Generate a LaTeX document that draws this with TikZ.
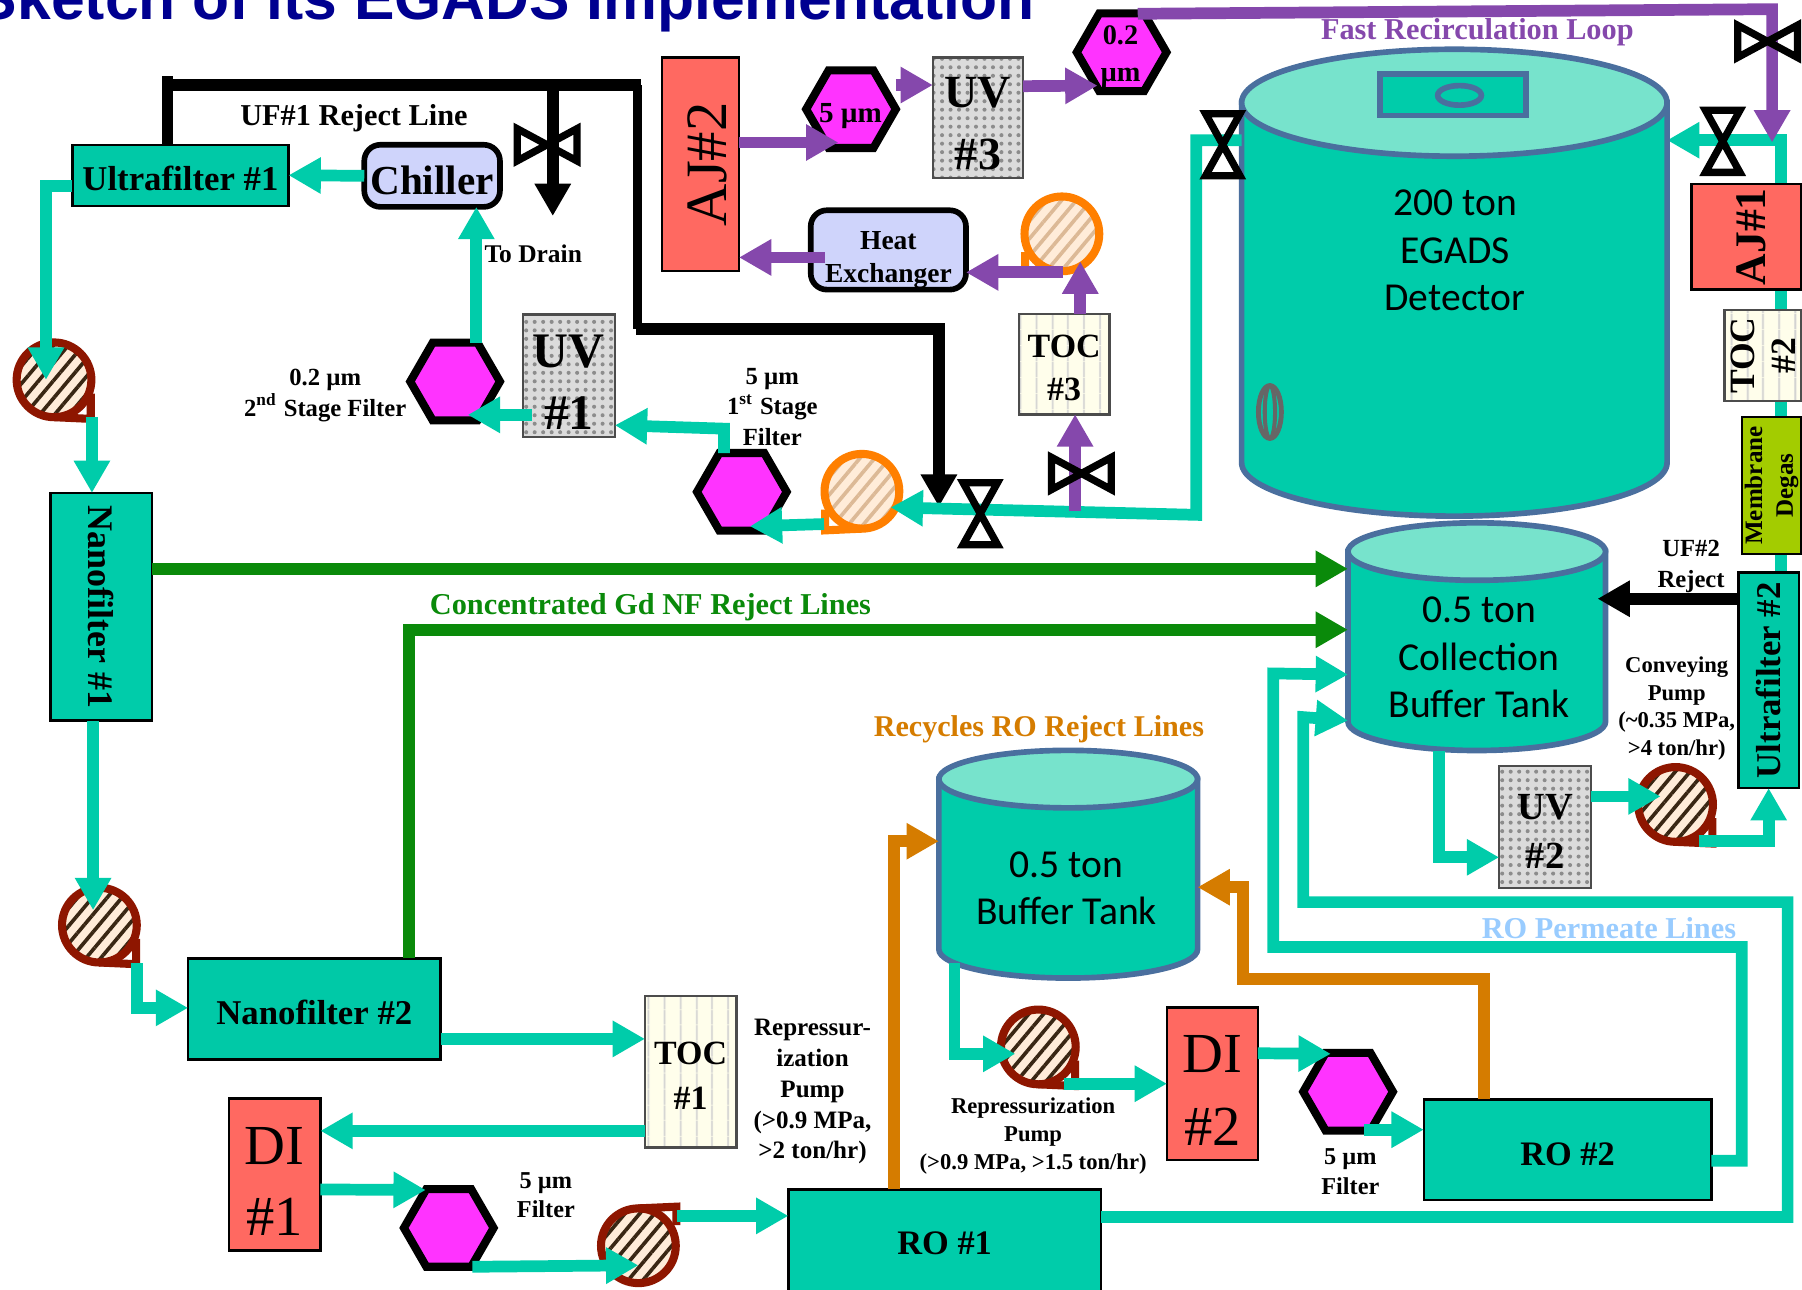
\documentclass[tikz,border=0pt]{standalone}
\usepackage{fontspec}
\setmainfont{Liberation Serif}
\newfontfamily\titlefont{Liberation Sans}
\newfontfamily\tankfont{Carlito}
\usepackage{xcolor}
\definecolor{flowgreen}{HTML}{00CCAA}
\definecolor{boxteal}{HTML}{00C9A7}
\definecolor{lidteal}{HTML}{77E3CC}
\definecolor{tankrim}{HTML}{4A6F9E}
\definecolor{coral}{HTML}{FF6961}
\definecolor{hexpink}{HTML}{FF33FF}
\definecolor{periwinkle}{HTML}{CFD4FB}
\definecolor{loopviolet}{HTML}{8548AC}
\definecolor{rejorange}{HTML}{D57C00}
\definecolor{rejgreen}{HTML}{0A8A0A}
\definecolor{pumpred}{HTML}{8E1600}
\definecolor{pumporange}{HTML}{FF7F00}
\definecolor{degaslime}{HTML}{A3CC00}
\definecolor{titleblue}{HTML}{000090}
\definecolor{permblue}{HTML}{99CCFF}
\usetikzlibrary{arrows.meta,shapes.geometric,patterns.meta,backgrounds}
\newcommand{\fsz}[2]{\fontsize{#1}{#2}\selectfont}
\newcommand{\drop}[1][0.9em]{\rule{0pt}{#1}}
\tikzset{
  solid box/.style={draw=black, line width=0.6pt, inner sep=0pt, outer sep=0pt, align=center},
  tealbox/.style={solid box, fill=boxteal, font=\bfseries},
  coralbox/.style={solid box, fill=coral},
  softbox/.style={solid box, fill=periwinkle, line width=1.4pt, rounded corners=4pt, font=\bfseries},
  uvbox/.style={solid box, draw=black!70, preaction={fill=black!14}, pattern={Dots[distance=2.1pt,radius=0.5pt]}, pattern color=black!45, font=\bfseries},
  tocbox/.style={solid box, draw=black!70, preaction={fill=yellow!8!white}, pattern={Lines[angle=90,distance=4pt,line width=0.5pt]}, pattern color=black!18, font=\bfseries},
  hexfilter/.style={regular polygon, regular polygon sides=6, minimum size=0.78cm, draw=black, line width=2pt, fill=hexpink, inner sep=0pt, outer sep=0pt},
  pumpbody/.style={circle, minimum size=0.65cm, inner sep=0pt, outer sep=0pt, line width=2pt, draw=#1},
  darkpump/.style={pumpbody=pumpred, preaction={fill=orange!15!white}, pattern={Lines[angle=50,distance=2.8pt,line width=0.9pt]}, pattern color=black!70!brown},
  palepump/.style={pumpbody=pumporange, preaction={fill=orange!15!white}, pattern={Lines[angle=50,distance=2.8pt,line width=0.9pt]}, pattern color=brown!55!white},
  vessel/.style={inner sep=0pt, outer sep=0pt},
  rim/.style={draw=tankrim, line width=1.4pt},
  tanktext/.style={font=\tankfont\fsz{9.8pt}{11.7pt}, align=center, inner sep=0pt},
  lab/.style={font=\bfseries\fsz{5.8pt}{6.9pt}, align=center, inner sep=0pt},
  flow/.style={line width=2.9pt, draw=flowgreen, -{Triangle[length=8pt,width=8.5pt]}},
  loopflow/.style={flow, draw=loopviolet},
  greenflow/.style={flow, draw=rejgreen},
  orangeflow/.style={flow, draw=rejorange},
  blackflow/.style={flow, draw=black},
  valveline/.style={draw=black, line width=1.8pt, line join=miter}
}
\begin{document}
\begin{tikzpicture}[x=0.01cm, y=-0.01cm]
\useasboundingbox (0,0) rectangle (1568,1122);
\clip (0,0) rectangle (1568,1122);
\node[anchor=base east, inner sep=0pt, text=titleblue, font=\titlefont\bfseries\fsz{15pt}{18pt}] (title) at (901,17) {Sketch of its EGADS Implementation};
% tanks
\node[vessel, minimum width=3.7cm, minimum height=4.06cm] (tank) at (1265.5,246) {};
\node[vessel, minimum width=2.24cm, minimum height=1.98cm] (collect) at (1285,554) {};
\node[vessel, minimum width=2.25cm, minimum height=1.98cm] (buffer) at (929.5,752) {};
\foreach \t/\rx/\ry in {tank/1.85/0.465, collect/1.12/0.25, buffer/1.125/0.25}{
  \draw[rim, fill=flowgreen] ([yshift=-\ry cm]\t.north west) -- ([yshift=\ry cm]\t.south west)
    arc[start angle=180, end angle=360, x radius=\rx cm, y radius=\ry cm] -- ([yshift=-\ry cm]\t.north east) -- cycle;
  \draw[rim, fill=lidteal] ([yshift=-\ry cm]\t.north) ellipse [x radius=\rx cm, y radius=\ry cm];
}
\node[draw=tankrim, line width=1.4pt, fill=flowgreen, minimum width=1.27cm, minimum height=0.36cm, inner sep=0pt] (lidhatch) at (1264.5,82.5) {};
\node[ellipse, draw=tankrim, line width=1.4pt, minimum width=0.38cm, minimum height=0.17cm, inner sep=0pt] (lidport) at (1270,83) {};
\node[ellipse, draw=black!60, line width=1.2pt, minimum width=0.2cm, minimum height=0.46cm, inner sep=0pt] (port) at (1105,358.5) {};
\node[ellipse, draw=black!60, line width=1pt, minimum width=0.09cm, minimum height=0.46cm, inner sep=0pt] (portin) at (1105,358.5) {};
\node[tanktext] (tanklab) at (1266,218) {200 ton\\EGADS\\Detector};
\node[tanktext] (collectlab) at (1287,572) {0.5 ton\\Collection\\Buffer Tank};
\node[tanktext] (bufferlab) at (928,773) {0.5 ton\\Buffer Tank};
% boxes
\node[tealbox, minimum width=1.88cm, minimum height=0.53cm, font=\bfseries\fsz{8.6pt}{10pt}] (ufone) at (157,152.5) {\drop Ultrafilter \#1};
\node[softbox, minimum width=1.18cm, minimum height=0.54cm, font=\bfseries\fsz{10.2pt}{12pt}] (chiller) at (376,153) {\drop Chiller};
\node[softbox, minimum width=1.35cm, minimum height=0.69cm, font=\bfseries\fsz{6.8pt}{8pt}] (heatex) at (773,217.5) {\drop[1.4em]Heat\\Exchanger};
\node[coralbox, rotate=90, minimum width=1.86cm, minimum height=0.67cm, font=\fsz{14.5pt}{17pt}] (ajtwo) at (609.5,143) {\drop AJ\#2};
\node[coralbox, rotate=90, minimum width=0.92cm, minimum height=0.95cm, font=\bfseries\fsz{10.8pt}{13pt}] (ajone) at (1519.5,206) {\drop AJ\#1};
\node[uvbox, minimum width=0.8cm, minimum height=1.065cm, font=\bfseries\fsz{12.3pt}{15.4pt}] (uvone) at (495,327) {\drop UV\\\#1};
\node[uvbox, minimum width=0.8cm, minimum height=1.06cm, font=\bfseries\fsz{9.5pt}{12pt}] (uvtwo) at (1344.5,719.5) {\drop UV\\\#2};
\node[uvbox, minimum width=0.785cm, minimum height=1.05cm, font=\bfseries\fsz{11.4pt}{15.4pt}] (uvthree) at (851,102.5) {\drop UV\\\#3};
\node[tocbox, minimum width=0.795cm, minimum height=1.32cm, font=\bfseries\fsz{8.4pt}{11pt}] (tocone) at (601,932.5) {\drop TOC\\\#1};
\node[tocbox, rotate=90, minimum width=0.79cm, minimum height=0.665cm, font=\bfseries\fsz{8.8pt}{10.2pt}] (toctwo) at (1534,309.5) {TOC\\\#2};
\node[tocbox, minimum width=0.79cm, minimum height=0.87cm, font=\bfseries\fsz{8.4pt}{10.6pt}] (tocthree) at (926,317) {\drop TOC\\\#3};
\node[solid box, fill=degaslime, rotate=90, minimum width=1.19cm, minimum height=0.515cm, font=\bfseries\fsz{6.2pt}{7.6pt}] (degas) at (1541.5,422.5) {Membrane\\Degas};
\node[solid box, fill=boxteal, rotate=90, minimum width=1.875cm, minimum height=0.525cm, font=\bfseries\fsz{8.6pt}{10pt}] (uftwo) at (1539,592) {Ultrafilter \#2};
\node[solid box, fill=flowgreen, rotate=-90, minimum width=1.98cm, minimum height=0.88cm, font=\bfseries\fsz{8.9pt}{10pt}] (nfone) at (88,528) {Nanofilter \#1};
\node[tealbox, minimum width=2.195cm, minimum height=0.88cm, font=\bfseries\fsz{8.6pt}{10pt}] (nftwo) at (273.5,878) {\drop Nanofilter \#2};
\node[coralbox, minimum width=0.795cm, minimum height=1.325cm, font=\fsz{14pt}{17.6pt}] (dione) at (239,1022) {\drop DI\\\#1};
\node[coralbox, minimum width=0.79cm, minimum height=1.325cm, font=\fsz{14pt}{18pt}] (ditwo) at (1055,943) {\drop DI\\\#2};
\node[solid box, fill=flowgreen, minimum width=2.72cm, minimum height=1.6cm, anchor=north west] (roone) at (686,1035) {};
\node[inner sep=0pt, font=\bfseries\fsz{8.5pt}{10pt}] (roonelab) at (822,1082) {RO \#1};
\node[solid box, fill=flowgreen, minimum width=2.5cm, minimum height=0.875cm, font=\bfseries\fsz{8.5pt}{10pt}] (rotwo) at (1364,1000.5) {\drop RO \#2};
% filters
\node[hexfilter] (hexa) at (740.5,95) {};
\node[lab, font=\bfseries\fsz{7.2pt}{9pt}] (hexalab) at (740,101) {5 µm};
\node[hexfilter] (hexb) at (976,45.5) {};
\node[lab, font=\bfseries\fsz{7pt}{9.2pt}] (hexblab) at (975,49) {0.2\\µm};
\node[hexfilter] (hexc) at (396,332) {};
\node[hexfilter] (hexd) at (645.5,428) {};
\node[hexfilter] (hexe) at (390.5,1068.5) {};
\node[hexfilter] (hexf) at (1173,950) {};
% pumps
\node[darkpump] (pumpa) at (47,330.5) {};
\node[darkpump] (pumpb) at (86.5,805) {};
\node[darkpump] (pumpc) at (555.5,1084) {};
\node[darkpump] (pumpd) at (903.5,911) {};
\node[darkpump] (pumpe) at (1458,700) {};
\node[palepump] (pumpf) at (750,427.5) {};
\node[palepump] (pumpg) at (924,203.5) {};
\foreach \p in {pumpa,pumpb,pumpd,pumpe}{
  \draw[pumpred, line width=2pt] (\p.south) -- ([shift={(32,34)}]\p.center) -- ([shift={(32,12)}]\p.center);
}
\draw[pumpred, line width=2pt] (pumpc.north) -- ([shift={(33,-34)}]pumpc.center) -- ([shift={(33,-18)}]pumpc.center);
\foreach \p in {pumpf,pumpg}{
  \draw[pumporange, line width=2pt] (\p.south) -- ([shift={(-32,34)}]\p.center) -- ([shift={(-32,16)}]\p.center);
}
% labels
\node[lab, font=\bfseries\fsz{7.5pt}{9pt}] (ufonelab) at (308,103) {UF\#1 Reject Line};
\node[lab, font=\bfseries\fsz{6.3pt}{8pt}] (drainlab) at (464,221) {To Drain};
\node[lab, font=\bfseries\fsz{6.1pt}{7.6pt}] (hexclab) at (283,344) {0.2 µm\\2\textsuperscript{nd} Stage Filter};
\node[lab, font=\bfseries\fsz{6.1pt}{7.6pt}] (hexdlab) at (672,354) {5 µm\\1\textsuperscript{st} Stage\\Filter};
\node[lab, text=loopviolet, font=\bfseries\fsz{7.5pt}{9pt}] (looplab) at (1285.5,28) {Fast Recirculation Loop};
\node[lab, text=rejgreen, font=\bfseries\fsz{7.5pt}{9pt}] (gdlab) at (566,528) {Concentrated Gd NF Reject Lines};
\node[lab, text=rejorange, font=\bfseries\fsz{7.45pt}{9pt}] (recyclab) at (904,635) {Recycles RO Reject Lines};
\node[lab, text=permblue, font=\bfseries\fsz{7.5pt}{9pt}] (permlab) at (1400,808) {RO Permeate Lines};
\node[lab, font=\bfseries\fsz{6.1pt}{7.5pt}] (ufrejlab) at (1471.5,493) {UF\#2\\Reject};
\node[lab, font=\bfseries\fsz{5.6pt}{6.8pt}] (convlab) at (1459,616.5) {Conveying\\Pump\\(\textasciitilde0.35 MPa,\\>4 ton/hr)};
\node[lab, font=\bfseries\fsz{6.2pt}{7.6pt}] (repalab) at (707,950) {Repressur-\\ization\\Pump\\(>0.9 MPa,\\>2 ton/hr)};
\node[lab, font=\bfseries\fsz{5.6pt}{7pt}] (repblab) at (899,988.5) {Repressurization\\Pump\\(>0.9 MPa, >1.5 ton/hr)};
\node[lab, font=\bfseries\fsz{6pt}{7.4pt}] (hexelab) at (475,1040) {5 µm\\Filter};
\node[lab, font=\bfseries\fsz{6pt}{7.4pt}] (hexflab) at (1175,1019.5) {5 µm\\Filter};
% riser behind the right hand stack
\begin{scope}[on background layer]
\draw[flow] (1550,0 |- uftwo.east) -- (1550,122) -- (tank.east |- 0,122);
\end{scope}
% reject lines
\coordinate (rejjoin) at (555,74);
\coordinate (draintip) at (481,188);
\coordinate (rejtip) at (817,441);
\draw[black, line width=2.8pt] (146,0 |- ufone.north) -- (146,66);
\draw[black, line width=2.8pt] (146,74) -- (558,74);
\draw[blackflow] (rejjoin -| draintip) -- (draintip);
\draw[black, line width=2.2pt] (rejjoin) -- (555,286);
\draw[blackflow] (553,286) -| (rejtip);
\draw[blackflow] (uftwo.north |- 0,521) -- ([xshift=-0.07cm]collect.east |- 0,521);
% main flow
\draw[flow] (chiller.west) -- (ufone.east);
\draw[flow] (ufone.west |- 0,162) -| (40,0 |- pumpa.center);
\draw[flow] (80,0 |- pumpa.south) -- (80,0 |- nfone.west);
\draw[flow] (81,0 |- nfone.east) -- ([shift={(-5.5,-13)}]pumpb.center);
\draw[flow] (119,838) |- (nftwo.west |- 0,877);
\draw[flow] (nftwo.east |- 0,904) -- (tocone.west |- 0,904);
\draw[flow] (tocone.west |- 0,984) -- (dione.east |- 0,984);
\draw[flow] (dione.east |- 0,1035) -- ([shift={(-20,-33)}]hexe.center);
\draw[flow] (411,0 |- hexe.south) -- ([shift={(0,17)}]pumpc.center);
\draw[flow] (589,1058) -- (roone.west |- 0,1058);
\draw[flow] (414.5,0 |- hexc.north) -- (414.5,0 |- chiller.south);
\draw[flow] (uvone.west |- 0,361) ++(8,0) -- ([shift={(11,29)}]hexc.center);
\draw[flow] (630,0 |- hexd.north) -- (630,373) -- (uvone.east |- 0,370);
\draw[flow] (717,456) -- ([shift={(7,30)}]hexd.center);
\draw[flow] (tank.west |- 0,122) -- (1041,122) -- (1041,448) -- ([shift={(25,14)}]pumpf.center);
\draw[flow] (830.5,838) |- ([shift={(-20,6)}]pumpd.center);
\draw[flow] (925.5,943) -- (ditwo.west |- 0,943);
\draw[flow] (ditwo.east |- 0,916.5) -- ([shift={(-15,-33)}]hexf.center);
\draw[flow] (1187,983) -- (rotwo.west |- 0,983);
\draw[flow] (1252,0 |- collect.south) |- (uvtwo.west |- 0,746);
\draw[flow] (uvtwo.east |- 0,693) -- ([shift={(-13,-7)}]pumpe.center);
\draw[flow] (1478,732) -| (uftwo.west);
% permeate
\draw[flow] (roone.east |- 0,1059) -- (1555.5,1059) -- (1555.5,785) -- (1134,785) -- (1134,624) -- (collect.west |- 0,627);
\draw[flow] (rotwo.east |- 0,1010) -- (1515.5,1010) -- (1515.5,824) -- (1108,824) -- (1108,586) -- (collect.west |- 0,587);
% concentrate
\draw[greenflow] (nfone.north |- 0,495) -- (collect.west |- 0,495);
\draw[greenflow] (356,0 |- nftwo.north) |- (collect.west |- 0,548);
\draw[orangeflow] (778,0 |- roone.north) |- (buffer.west |- 0,732);
\draw[orangeflow] (1291.5,0 |- rotwo.north) -- (1291.5,852) -- (1081.5,852) -- (1081.5,772) -- (buffer.east |- 0,772);
% fast loop
\draw[loopflow] (ajtwo.south |- 0,124) -- ([shift={(-11,29)}]hexa.center);
\draw[loopflow] (hexa.east |- 0,74) -- (uvthree.west |- 0,74);
\draw[loopflow] (uvthree.east |- 0,75) -- ([shift={(-21,29)}]hexb.center);
\draw[loopflow] (990,12) -- (1542,8) -- (1542,124);
\draw[loopflow] (heatex.west |- 0,224) ++(12,0) -- (ajtwo.south |- 0,224);
\draw[loopflow] (925,237) -- (heatex.east |- 0,237);
\draw[loopflow] (940,0 |- tocthree.north) -- ([shift={(16,24)}]pumpg.center);
\draw[loopflow] (935.5,445) -- (935.5,0 |- tocthree.south);
% valves
\foreach \x/\y in {476/126,1538/36,941/412}{
  \draw[valveline] (\x-26,\y-14) -- (\x+26,\y+14) -- (\x+26,\y-14) -- (\x-26,\y+14) -- cycle;
}
\foreach \x/\y in {1064/126,1499/123,853/447}{
  \draw[valveline] (\x-15,\y-27) -- (\x+15,\y-27) -- (\x-15,\y+27) -- (\x+15,\y+27) -- cycle;
}
\end{tikzpicture}
\end{document}
